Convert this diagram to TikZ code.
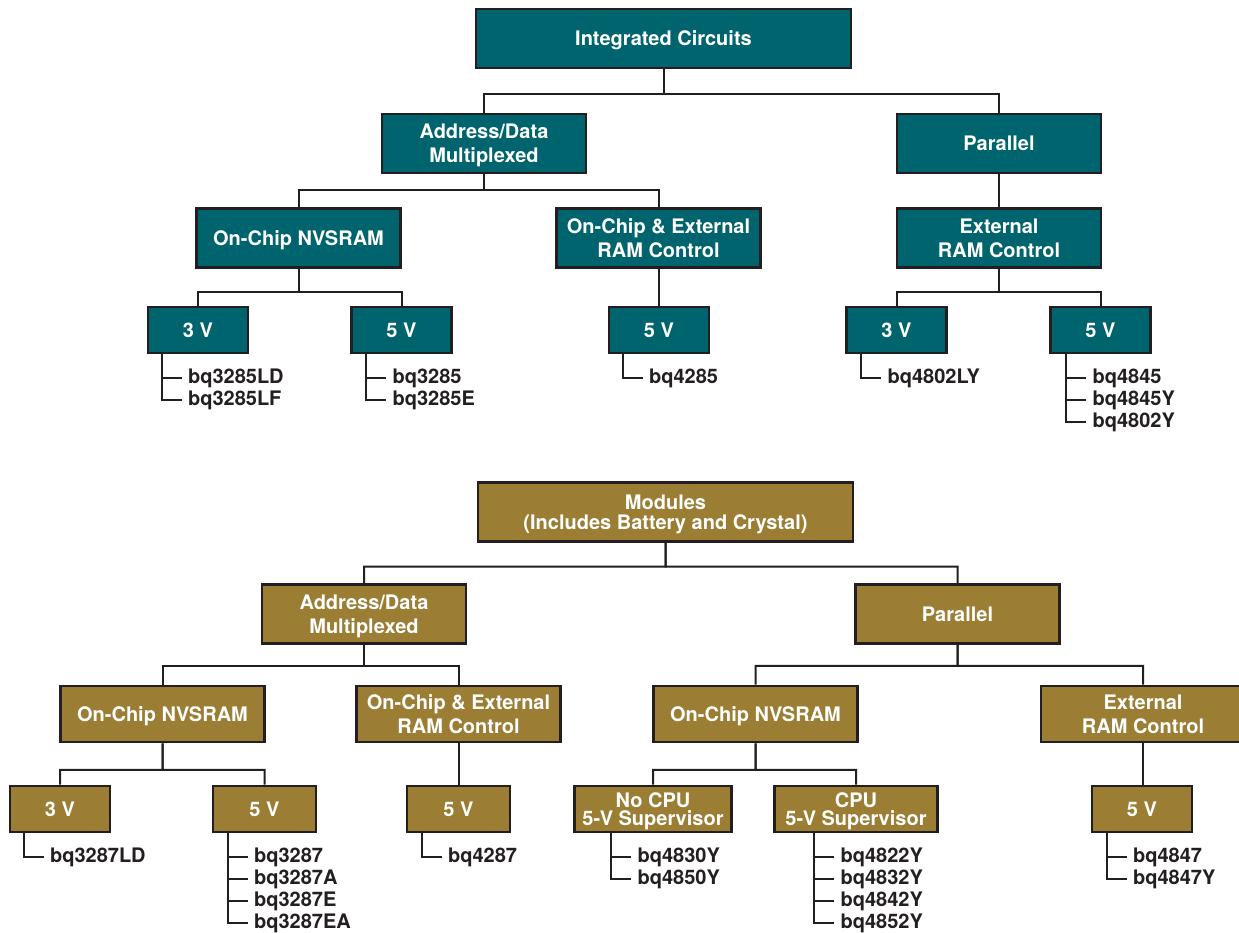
\documentclass[tikz,border=0pt]{standalone}
\usepackage{fontspec}
\setmainfont{TeX Gyre Heros}
\usetikzlibrary{calc}

\definecolor{icteal}{RGB}{0,100,110}
\definecolor{modgold}{RGB}{155,126,52}
\definecolor{ink}{RGB}{35,31,32}

\begin{document}
\begin{tikzpicture}
% Style
[
    x=.5pt, y=-.5pt,
    every edge/.style={draw=ink, line width=1pt},
    box/.style={
        draw=ink, line width=1.3pt, align=center, shape=rectangle, inner sep=0pt, text depth=0pt,
        text=white, font=\bfseries\fontsize{10}{12}\selectfont
    },
    icbox/.style={box, fill=icteal},
    modbox/.style={box, fill=modgold},
    wide/.style={minimum width=187.5pt, minimum height=29.5pt},
    mid/.style={minimum width=102pt, minimum height=29.5pt},
    volt/.style={minimum width=50pt, minimum height=23pt},
    leaf/.style={anchor=west, inner xsep=3pt, inner ysep=0pt, text=ink, font=\bfseries\fontsize{10}{12}\selectfont},
    tree/.style={to path={(\tikztostart.south) -- ($(\tikztostart.south)!#1!(\tikztostart.south|-\tikztotarget.north)$) -| (\tikztotarget.north)}},
    tree/.default=.55,
    stem/.style={to path={(\tikztostart.south) -- (\tikztostart.south|-\tikztotarget.north)}},
    twig/.style={to path={(\tikztostart) |- (\tikztotarget.west)}}
]
\useasboundingbox (0,0) rectangle (1239,933);

%============================ Integrated Circuits ============================
{
    \node[icbox, wide] (ic) at (663.5,38.5) {Integrated Circuits};
    \node[icbox, mid] (ic-mux) at (484,143.5) {Address/Data\\Multiplexed};
    \node[icbox, mid] (ic-par) at (999,143.5) {Parallel};
    \node[icbox, mid] (ic-nv) at (298.5,238) {On-Chip NVSRAM};
    \node[icbox, mid] (ic-ext) at (658.5,238) {On-Chip \& External\\RAM Control};
    \node[icbox, mid] (ic-ram) at (999,238) {External\\RAM Control};
    \node[icbox, volt] (ic-nv3) at (198,330) {3 V};
    \node[icbox, volt] (ic-nv5) at (401.5,330) {5 V};
    \node[icbox, volt] (ic-ext5) at (659,330) {5 V};
    \node[icbox, volt] (ic-ram3) at (896.5,330) {3 V};
    \node[icbox, volt] (ic-ram5) at (1100.5,330) {5 V};

    \path (ic) edge[tree=.57] (ic-mux) edge[tree=.57] (ic-par);
    \path (ic-mux) edge[tree=.49] (ic-nv) edge[tree=.49] (ic-ext);
    \path (ic-par) edge[stem] (ic-ram);
    \path (ic-nv) edge[tree=.62] (ic-nv3) edge[tree=.62] (ic-nv5);
    \path (ic-ext) edge[stem] (ic-ext5);
    \path (ic-ram) edge[tree=.62] (ic-ram3) edge[tree=.62] (ic-ram5);
}

%================================== Modules ==================================
{
    \node[modbox, wide, font=\bfseries\fontsize{10}{10}\selectfont] (mod) at (665.5,512) {Modules\\(Includes Battery and Crystal)};
    \node[modbox, mid] (mod-mux) at (364,614) {Address/Data\\Multiplexed};
    \node[modbox, mid] (mod-par) at (957.5,614) {Parallel};
    \node[modbox, mid, minimum height=28pt] (mod-nv) at (162.5,714) {On-Chip NVSRAM};
    \node[modbox, mid, minimum height=28pt] (mod-ext) at (458.5,714) {On-Chip \& External\\RAM Control};
    \node[modbox, mid, minimum height=28pt] (mod-pnv) at (755.5,714) {On-Chip NVSRAM};
    \node[modbox, mid, minimum height=28pt] (mod-ram) at (1143,714) {External\\RAM Control};
    \node[modbox, volt] (mod-nv3) at (60,809) {3 V};
    \node[modbox, volt, minimum width=51.5pt] (mod-nv5) at (264.5,809) {5 V};
    \node[modbox, volt, minimum width=51.5pt] (mod-ext5) at (458.5,809) {5 V};
    \node[modbox, volt, minimum width=78.5pt, font=\bfseries\fontsize{10}{9}\selectfont] (mod-no) at (653,809) {No CPU\\5-V Supervisor};
    \node[modbox, volt, minimum width=81.5pt, font=\bfseries\fontsize{10}{9}\selectfont] (mod-cpu) at (856,809) {CPU\\5-V Supervisor};
    \node[modbox, volt] (mod-ram5) at (1142,809) {5 V};

    \path (mod) edge[tree=.59] (mod-mux) edge[tree=.59] (mod-par);
    \path (mod-mux) edge[tree=.53] (mod-nv) edge[tree=.53] (mod-ext);
    \path (mod-par) edge[tree=.53] (mod-pnv) edge[tree=.53] (mod-ram);
    \path (mod-nv) edge[tree=.64] (mod-nv3) edge[tree=.64] (mod-nv5);
    \path (mod-ext) edge[stem] (mod-ext5);
    \path (mod-pnv) edge[tree=.64] (mod-no) edge[tree=.64] (mod-cpu);
    \path (mod-ram) edge[stem] (mod-ram5);
}

%================================ Part lists =================================
\foreach \b/\dx/\parts in {
    ic-nv3/15/{bq3285LD,bq3285LF},
    ic-nv5/16/{bq3285,bq3285E},
    ic-ext5/15/{bq4285},
    ic-ram3/16/{bq4802LY},
    ic-ram5/17/{bq4845,bq4845Y,bq4802Y},
    mod-nv3/15/{bq3287LD},
    mod-nv5/16/{bq3287,bq3287A,bq3287E,bq3287EA},
    mod-ext5/16/{bq4287},
    mod-no/38/{bq4830Y,bq4850Y},
    mod-cpu/41/{bq4822Y,bq4832Y,bq4842Y,bq4852Y},
    mod-ram5/16/{bq4847,bq4847Y}%
} {
    \coordinate (\b-foot) at ([shift={(\dx,0)}] \b.south west);
    \foreach \t [count=\i] in \parts {
        \node[leaf] (\b-\i) at ([shift={(\dx+20,24+22*(\i-1))}] \b.south west) {\t};
        \path (\b-foot) edge[twig] (\b-\i);
    }
}

\end{tikzpicture}
\end{document}
